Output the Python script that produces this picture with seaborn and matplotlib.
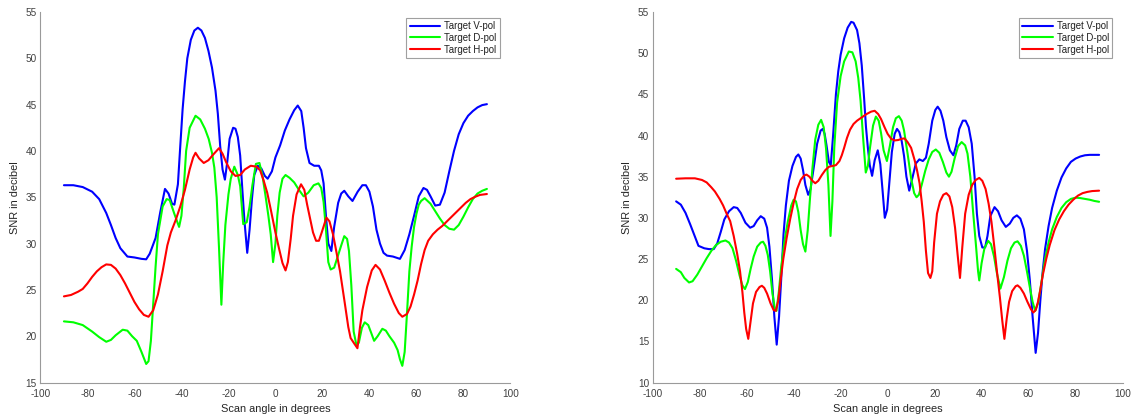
import matplotlib
matplotlib.use("Agg")
import matplotlib.pyplot as plt
import seaborn as sns
import pandas as pd

# ---------------- data ----------------
series_names = ["Target V-pol", "Target D-pol", "Target H-pol"]
series_colors = ["#0000ff", "#00ff00", "#ff0000"]
x_ticks = [-100, -80, -60, -40, -20, 0, 20, 40, 60, 80, 100]
left_yticks = [15, 20, 25, 30, 35, 40, 45, 50, 55]
right_yticks = [10, 15, 20, 25, 30, 35, 40, 45, 50, 55]

# ---- left panel ----
left_v_angle = [-90, -86, -82, -78, -75, -72, -70, -68, -66, -63, -60, -57, -55, -53.5, -51, -49, -47, -45.5, -44, -43,
                -41.5, -40.5, -39.5, -38.5, -37.5, -36, -34.5, -33, -31.5, -30, -28.5, -27, -25.5, -24.5, -23.5, -22.5,
                -21.5, -20.5, -19.5, -18, -17, -16, -15, -14, -13.2, -12, -11, -10, -9, -7.5, -6, -4.5, -3.3, -1.5, 0,
                2, 4, 6, 8, 9.5, 11, 12, 13, 14.5, 16.5, 18.5, 19.5, 20.5, 21.5, 22.5, 23.8, 25, 26.7, 28, 29.3, 31,
                32.8, 35, 37, 38.5, 40, 41.5, 43, 44.5, 46, 47.5, 50, 53, 55, 57, 59, 61, 63, 64.5, 66, 68, 70, 72, 74,
                76, 78, 80, 82, 84, 86, 88, 90]
left_v_snr = [36.3, 36.3, 36.1, 35.6, 34.8, 33.3, 32.0, 30.6, 29.5, 28.6, 28.5, 28.35, 28.3, 28.9, 30.6, 33.4, 35.9, 35.4,
              34.3, 34.2, 36.4, 40.5, 44.5, 47.5, 50.0, 52.0, 53.0, 53.3, 53.0, 52.2, 50.8, 49.0, 46.5, 44.0, 40.5, 38.0,
              36.9, 38.8, 41.3, 42.5, 42.4, 41.5, 39.5, 35.5, 32.5, 29.0, 31.5, 34.8, 37.4, 38.4, 38.1, 37.3, 37.0, 37.8,
              39.3, 40.6, 42.2, 43.4, 44.4, 44.9, 44.3, 42.5, 40.3, 38.7, 38.4, 38.4, 37.9, 36.5, 33.0, 30.0, 29.2, 31.8,
              34.4, 35.4, 35.7, 35.1, 34.6, 35.6, 36.3, 36.3, 35.6, 34.0, 31.5, 30.0, 29.0, 28.7, 28.6, 28.35, 29.3, 31.0,
              33.0, 35.1, 36.0, 35.8, 35.1, 34.1, 34.2, 35.5, 37.8, 40.0, 41.8, 43.0, 43.8, 44.3, 44.7, 44.95, 45.05]

left_d_angle = [-90, -86, -82, -78, -75, -72, -70, -68, -65, -63, -61, -59, -57, -55, -54, -53, -52, -51, -50, -48,
                -46.3, -45, -43, -41, -40, -39, -38, -36.5, -34, -32, -30, -28.4, -27, -26, -25, -24, -23, -22.2,
                -21.3, -20, -19, -17.5, -16, -15, -13.7, -12.2, -11, -9.8, -8.3, -6.8, -5.5, -4.3, -3, -2, -1, 0, 0.8,
                1.8, 3, 4.3, 6, 8, 10, 12, 14, 16.3, 18.3, 19.5, 20.5, 21.5, 22.5, 23.5, 25, 26.5, 28, 29.3, 30.5,
                31.3, 32.3, 33.3, 34.5, 35.5, 36.8, 38, 39.5, 40.7, 42, 43.5, 45.5, 47, 48.5, 50.5, 52, 53, 54, 55,
                56, 57, 58, 59, 60, 61, 62, 63.5, 66, 68, 70, 72, 74, 76, 78, 80, 82, 84, 86, 88, 90]
left_d_snr = [21.6, 21.5, 21.2, 20.5, 19.9, 19.4, 19.6, 20.1, 20.7, 20.6, 20.0, 19.5, 18.3, 17.0, 17.3, 19.5, 23.5, 27.5,
              31.0, 34.0, 34.8, 34.7, 33.2, 31.8, 33.0, 36.0, 40.0, 42.5, 43.8, 43.4, 42.4, 41.3, 39.8, 38.2, 35.0, 29.5,
              23.4, 28.0, 32.0, 35.3, 37.0, 38.3, 37.4, 36.2, 32.1, 32.3, 34.0, 36.3, 38.6, 38.7, 37.3, 35.3, 33.0, 31.0,
              28.0, 30.0, 33.0, 35.5, 37.0, 37.4, 37.1, 36.6, 35.8, 35.1, 35.5, 36.3, 36.5, 36.0, 34.5, 31.5, 28.0, 27.2,
              27.4, 28.6, 29.8, 30.8, 30.5, 29.2, 25.5, 20.5, 19.0, 19.3, 20.9, 21.5, 21.2, 20.4, 19.5, 20.0, 20.8, 20.6,
              20.0, 19.3, 18.5, 17.5, 16.8, 18.3, 22.5, 27.0, 29.7, 31.8, 33.2, 34.2, 34.6, 34.9, 34.3, 33.5, 32.7, 32.0,
              31.6, 31.5, 32.0, 32.9, 33.9, 34.8, 35.4, 35.7, 35.9]

left_h_angle = [-90, -87, -84, -82, -80, -78, -76, -74, -72, -70, -68, -66, -64, -62, -60, -58, -56, -54, -52, -50, -48,
                -46, -44.5, -42.5, -40.5, -38.5, -36.5, -35, -34, -32.5, -30.5, -28.5, -26.5, -24, -22.5, -21, -19, -17,
                -15, -13, -10.5, -8, -6.5, -5, -3.5, -2, 0, 1.5, 3, 4.3, 5.3, 6.5, 7.5, 9, 10.9, 12.3, 13.5, 14.5, 16,
                17.3, 18.5, 19.7, 21.7, 23, 24.5, 25.5, 27.5, 29.5, 31, 32, 33.3, 34.9, 36, 37, 39, 41, 42.6, 44.5, 46.5,
                48.5, 50.5, 52.5, 54, 56, 57.5, 59, 60.5, 62, 63.5, 65, 67, 69, 71, 73, 75, 77, 79, 81, 83, 85, 87, 90]
left_h_snr = [24.3, 24.45, 24.8, 25.1, 25.7, 26.4, 27.0, 27.45, 27.75, 27.7, 27.3, 26.6, 25.7, 24.7, 23.7, 22.9, 22.3,
              22.1, 22.8, 24.5, 27.0, 29.8, 31.2, 32.5, 34.0, 35.8, 38.0, 39.3, 39.8, 39.2, 38.7, 39.0, 39.6, 40.3, 39.7,
              38.8, 37.8, 37.3, 37.4, 38.0, 38.4, 38.3, 37.9, 36.8, 35.5, 33.7, 31.2, 29.5, 27.9, 27.1, 28.0, 30.5, 33.0,
              35.3, 36.4, 35.8, 34.2, 33.0, 31.2, 30.3, 30.3, 31.2, 32.8, 32.4, 31.0, 29.7, 27.0, 23.6, 21.0, 19.8, 19.3,
              18.7, 21.0, 22.8, 25.3, 27.1, 27.7, 27.2, 26.0, 24.7, 23.5, 22.5, 22.1, 22.4, 23.2, 24.5, 26.0, 27.8, 29.3,
              30.3, 31.0, 31.5, 31.9, 32.4, 32.9, 33.4, 33.9, 34.4, 34.8, 35.05, 35.25, 35.35]

# ---- right panel ----
right_v_angle = [-90, -88, -86, -84, -82, -80.5, -78, -76, -74, -72.5, -71, -69.5, -67.5, -65.5, -64, -62.5, -60.5,
                 -58.5, -57, -55.5, -54, -52.5, -51.3, -50.3, -49.2, -48.2, -47.2, -46.2, -45.3, -44.3, -43.3, -42,
                 -40.5, -39, -38, -37, -36, -35, -33.8, -32.8, -31.5, -30, -28.5, -27.6, -26.8, -26, -25, -24.2, -23.2,
                 -22, -21, -20, -18.5, -17, -15.5, -14.5, -13, -12, -11, -10, -9.2, -8.4, -7.6, -6.6, -5.5, -4.2, -3.1,
                 -2.2, -1.2, -0.2, 0.8, 1.8, 3, 4, 5, 6, 7, 8, 9.2, 10.5, 12, 13.5, 15, 16.3, 17.5, 19, 20.3, 21.3,
                 22.5, 23.7, 25, 26.5, 28, 29.2, 30.5, 32, 33.2, 34.5, 35.8, 37, 38, 39, 40.3, 41.5, 42.5, 43.7, 45.5,
                 47, 48.5, 50.3, 52, 53.5, 55, 56.5, 58, 59.3, 60.5, 61.7, 63, 64, 65, 66, 67, 68.5, 70, 72, 74, 76, 78,
                 80, 82, 84, 86, 90]
right_v_snr = [32.0, 31.6, 30.6, 29.2, 27.7, 26.6, 26.3, 26.2, 26.2, 26.9, 28.3, 29.8, 30.8, 31.3, 31.2, 30.6, 29.4,
               28.8, 29.0, 29.7, 30.2, 29.9, 28.8, 26.5, 22.5, 18.0, 14.6, 18.0, 22.5, 28.0, 31.5, 34.5, 36.3, 37.4, 37.7,
               37.2, 35.8, 34.0, 32.8, 33.5, 36.0, 39.0, 40.6, 40.8, 40.2, 38.8, 36.8, 36.4, 40.0, 45.0, 47.8, 49.8, 51.8,
               53.1, 53.8, 53.7, 52.8, 51.2, 48.5, 44.5, 41.0, 38.5, 36.4, 35.1, 37.0, 38.2, 36.5, 33.5, 30.0, 31.0, 34.5,
               38.0, 40.2, 40.8, 40.4, 39.3, 37.5, 35.0, 33.3, 34.8, 36.6, 37.1, 36.9, 37.3, 39.0, 41.8, 43.1, 43.5, 43.0,
               41.8, 39.8, 38.2, 37.6, 38.8, 40.8, 41.8, 41.8, 41.0, 39.0, 35.0, 30.5, 27.8, 26.4, 26.4, 27.8, 30.2, 31.3,
               30.8, 29.7, 28.9, 29.3, 30.0, 30.3, 29.9, 28.6, 26.0, 22.5, 18.0, 13.6, 16.0, 20.0, 23.5, 26.2, 29.0, 31.2,
               33.3, 34.9, 36.0, 36.8, 37.2, 37.45, 37.6, 37.65, 37.65]

right_d_angle = [-90, -88, -86.5, -84.5, -83, -81, -79, -77, -75, -73, -71, -69, -67.5, -66, -64.5, -63, -61.8, -60.7,
                 -59.5, -58.3, -57, -55.5, -54, -53, -52, -51, -50, -49, -48, -47.3, -46.3, -45.3, -44, -42.5, -41, -40,
                 -39, -38, -37, -36, -35, -34, -33, -32, -30.8, -29.5, -28.3, -27.2, -26.2, -25.2, -24.3, -23.5, -22.7,
                 -21.5, -20, -18.5, -16.5, -15, -13.6, -12.5, -11.5, -10.5, -9.3, -8.4, -7.5, -6.2, -5, -3.8, -2.8, -1.7,
                 -0.3, 1, 2.3, 3.5, 4.8, 6, 7, 8.5, 10, 11.3, 12.3, 13.3, 14.5, 16, 17.5, 19, 20.5, 22, 23.5, 25, 26.1,
                 27.2, 28.5, 30, 31.5, 33, 34, 35.2, 36.3, 37.5, 38.5, 39, 40, 41.2, 42.8, 44, 45.3, 46.5, 48, 49.5, 51,
                 52.5, 54, 55.3, 56.7, 58, 59.3, 60.5, 61.7, 62.8, 64, 65, 66, 67, 68.5, 70, 72, 74, 76, 78, 80, 82, 84,
                 86, 88, 90]
right_d_snr = [23.8, 23.4, 22.7, 22.15, 22.3, 23.1, 24.1, 25.1, 26.0, 26.7, 27.1, 27.25, 27.0, 26.3, 24.8, 23.0, 21.8,
               21.35, 22.2, 23.8, 25.3, 26.5, 27.0, 27.1, 26.6, 25.5, 23.5, 20.8, 19.0, 18.7, 21.0, 24.0, 27.0, 29.5, 31.5,
               32.2, 32.0, 30.7, 28.5, 26.8, 25.9, 28.5, 32.5, 36.0, 39.5, 41.3, 41.9, 41.0, 38.4, 34.0, 27.8, 32.0, 38.5,
               44.0, 47.2, 49.0, 50.2, 50.1, 49.0, 47.0, 44.2, 40.0, 35.5, 36.3, 38.5, 41.2, 42.3, 41.8, 40.3, 38.2, 36.9,
               38.8, 41.0, 42.1, 42.35, 41.8, 40.6, 37.8, 34.8, 33.0, 32.5, 32.8, 34.0, 35.7, 37.1, 38.0, 38.3, 37.9, 36.8,
               35.5, 35.0, 35.6, 37.2, 38.7, 39.2, 38.8, 37.8, 35.0, 31.0, 27.0, 23.5, 22.4, 24.5, 26.3, 27.2, 26.8, 25.3,
               23.3, 21.4, 22.8, 24.8, 26.3, 27.0, 27.15, 26.6, 25.4, 23.5, 21.6, 19.8, 18.7, 19.6, 21.3, 23.2, 25.0, 27.0,
               28.6, 30.1, 31.2, 31.9, 32.3, 32.45, 32.4, 32.3, 32.2, 32.05, 31.95]

right_h_angle = [-90, -86, -82, -79, -77, -75, -73.5, -71.5, -70, -68.5, -67, -65.5, -64, -62.8, -61.8, -61, -60.2,
                 -59.3, -58.3, -57.3, -56, -54.5, -53.5, -52.5, -51.3, -49.8, -48.5, -47.6, -46.5, -45.5, -44.4, -43,
                 -41.5, -40, -38.5, -37, -35.5, -34.5, -33.3, -32, -30.8, -29.5, -28, -26.5, -25, -23.5, -22, -20.5,
                 -19.5, -18.5, -17.3, -16, -14.5, -13, -11, -9, -7, -5.5, -4, -2.8, -1.3, 0, 1.5, 3, 4.5, 6, 7.2, 8.5,
                 10, 11.5, 12.5, 13.6, 14.5, 15.4, 16.3, 17.2, 18.2, 19, 19.8, 21, 22.3, 23.7, 25, 26.3, 27.5, 28.7,
                 29.8, 30.8, 31.8, 33, 34.5, 36, 37.5, 39, 40.3, 41.7, 43, 44.2, 45.4, 46.6, 47.8, 48.8, 49.7, 50.7,
                 51.7, 53, 54.5, 55.3, 56.5, 58, 59.5, 61, 62, 63, 64, 65, 66, 67.5, 69, 71, 73, 75, 77, 79, 81, 83, 85,
                 87, 90]
right_h_snr = [34.75, 34.8, 34.8, 34.6, 34.3, 33.7, 33.2, 32.3, 31.5, 30.5, 29.6, 27.8, 25.6, 23.5, 21.0, 18.5, 16.5,
               15.3, 17.5, 19.6, 21.0, 21.6, 21.75, 21.5, 20.8, 19.6, 18.8, 18.7, 20.0, 22.5, 25.0, 27.5, 29.8, 31.8, 33.5,
               34.6, 35.15, 35.25, 35.0, 34.5, 34.2, 34.5, 35.2, 35.8, 36.2, 36.3, 36.4, 36.9, 37.6, 38.5, 39.7, 40.7,
               41.4, 41.8, 42.2, 42.6, 42.9, 43.0, 42.6, 42.0, 41.0, 40.2, 39.6, 39.4, 39.45, 39.6, 39.65, 39.2, 38.5,
               37.0, 35.8, 34.2, 32.0, 29.5, 26.0, 23.3, 22.7, 23.5, 27.0, 30.5, 32.0, 32.8, 33.0, 32.6, 31.3, 28.8, 25.5,
               22.7, 26.5, 30.5, 32.8, 34.0, 34.6, 34.85, 34.5, 33.5, 31.7, 29.5, 26.5, 23.3, 20.3, 17.5, 15.3, 17.8, 19.8,
               21.1, 21.7, 21.8, 21.5, 20.8, 19.8, 18.9, 18.5, 18.8, 19.8, 21.3, 23.0, 25.0, 26.7, 28.5, 29.8, 30.8, 31.6,
               32.2, 32.7, 33.0, 33.15, 33.25, 33.3]


def long_frame(angles, values):
    parts = []
    for name, a, v in zip(series_names, angles, values):
        parts.append(pd.DataFrame({"angle": a, "snr": v, "series": name}))
    return pd.concat(parts, ignore_index=True)


left_df = long_frame([left_v_angle, left_d_angle, left_h_angle], [left_v_snr, left_d_snr, left_h_snr])
right_df = long_frame([right_v_angle, right_d_angle, right_h_angle], [right_v_snr, right_d_snr, right_h_snr])

# ---------------- style ----------------
sns.set_theme(style="white")
plt.rcParams["font.family"] = ["Liberation Sans", "DejaVu Sans"]

AXIS_GRAY = "#9a9a9a"
TEXT_GRAY = "#404040"

fig = plt.figure(figsize=(11.36, 4.18), dpi=100)
ax_left = fig.add_axes([0.0356, 0.0849, 0.4137, 0.8864])
ax_right = fig.add_axes([0.5745, 0.0849, 0.4137, 0.8864])

palette = dict(zip(series_names, series_colors))

for ax, df, ylim, yticks in [(ax_left, left_df, (15, 55), left_yticks),
                             (ax_right, right_df, (10, 55), right_yticks)]:
    sns.lineplot(data=df, x="angle", y="snr", hue="series", hue_order=series_names,
                 palette=palette, estimator=None, sort=True, linewidth=1.5, ax=ax)
    ax.set_xlim(-100, 100)
    ax.set_ylim(*ylim)
    ax.set_xticks(x_ticks)
    ax.set_yticks(yticks)
    ax.set_xticklabels([str(t) for t in x_ticks])
    ax.set_yticklabels([str(t) for t in yticks])
    for side in ("top", "right"):
        ax.spines[side].set_visible(False)
    for side in ("left", "bottom"):
        ax.spines[side].set_color(AXIS_GRAY)
        ax.spines[side].set_linewidth(0.8)
    ax.tick_params(axis="both", direction="in", length=3.5, width=0.7, color=AXIS_GRAY,
                   labelcolor=TEXT_GRAY, labelsize=7.2)
    ax.tick_params(axis="x", pad=4.5)
    ax.tick_params(axis="y", pad=2.5)
    ax.set_xlabel("Scan angle in degrees", fontsize=7.9, color="#262626", va="center")
    ax.set_ylabel("SNR in decibel", fontsize=7.9, color="#262626", va="center")
    ax.xaxis.set_label_coords(0.5, -0.072)
    ax.yaxis.set_label_coords(-0.055, 0.5)
    handles, labels = ax.get_legend_handles_labels()
    leg = ax.legend(handles, labels, loc="upper right", bbox_to_anchor=(0.978, 0.985),
                    frameon=True, fancybox=False, framealpha=1, edgecolor="#a0a0a0",
                    fontsize=6.9, handlelength=3.2, handletextpad=0.42, labelspacing=0.2,
                    borderpad=0.35, borderaxespad=0)
    leg.get_frame().set_linewidth(0.8)
    for t in leg.get_texts():
        t.set_color("#202020")
    for ln in leg.get_lines():
        ln.set_linewidth(1.5)
    ax.grid(False)

fig.savefig("out.png", dpi=100, facecolor="white")
